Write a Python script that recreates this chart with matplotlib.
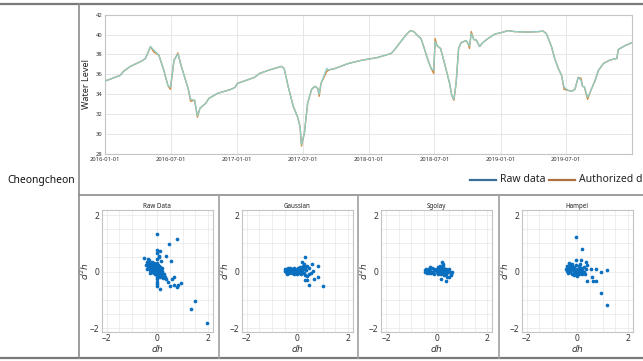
import numpy as np
import matplotlib
matplotlib.use("Agg")
import matplotlib.pyplot as plt
import matplotlib.dates as mdates
from matplotlib.lines import Line2D

plt.rcParams['font.family'] = ['Noto Sans', 'DejaVu Sans']

W, H = 643, 361

# water level (Cheongcheon)
level_dates = [
    '2016-01-01', '2016-02-12', '2016-02-21', '2016-03-11', '2016-04-12', '2016-04-22',
    '2016-05-06', '2016-05-15', '2016-05-29', '2016-06-12', '2016-06-23', '2016-06-30',
    '2016-07-10', '2016-07-21', '2016-07-28', '2016-08-07', '2016-08-18', '2016-08-25',
    '2016-09-05', '2016-09-13', '2016-09-20', '2016-10-06', '2016-10-15', '2016-11-08',
    '2016-12-15', '2016-12-26', '2017-01-02', '2017-02-18', '2017-03-04', '2017-04-05',
    '2017-05-03', '2017-05-11', '2017-05-22', '2017-06-05', '2017-06-17', '2017-06-24',
    '2017-06-28', '2017-07-06', '2017-07-15', '2017-07-26', '2017-08-04', '2017-08-12',
    '2017-08-16', '2017-08-21', '2017-09-06', '2017-09-12', '2017-09-29', '2017-11-05',
    '2017-12-09', '2018-01-25', '2018-03-03', '2018-03-12', '2018-03-30', '2018-04-13',
    '2018-04-25', '2018-05-05', '2018-05-14', '2018-05-25', '2018-06-03', '2018-06-13',
    '2018-06-22', '2018-06-29', '2018-07-03', '2018-07-08', '2018-07-18', '2018-07-29',
    '2018-08-12', '2018-08-18', '2018-08-24', '2018-08-30', '2018-09-06', '2018-09-13',
    '2018-09-27', '2018-10-02', '2018-10-06', '2018-10-11', '2018-10-18', '2018-10-25',
    '2018-11-03', '2018-11-12', '2018-11-26', '2018-12-15', '2019-01-02', '2019-01-21',
    '2019-02-08', '2019-03-17', '2019-04-14', '2019-04-28', '2019-05-07', '2019-05-21',
    '2019-05-30', '2019-06-09', '2019-06-18', '2019-06-25', '2019-07-06', '2019-07-16',
    '2019-07-25', '2019-08-03', '2019-08-11', '2019-08-15', '2019-08-20', '2019-08-29',
    '2019-09-05', '2019-09-19', '2019-09-28', '2019-10-12', '2019-10-30', '2019-11-18',
    '2019-11-22', '2019-12-11', '2019-12-31',
]
level_raw = [
    35.33, 35.9, 36.3, 36.8, 37.35, 37.6,
    38.8, 38.45, 37.95, 36.4, 34.9, 34.7,
    37.4, 38.05, 37.1, 35.9, 34.6, 33.5,
    33.4, 31.85, 32.6, 33.1, 33.6, 34.1,
    34.5, 34.7, 35.1, 35.7, 36.1, 36.5,
    36.8, 36.6, 34.8, 32.8, 31.75, 30.75,
    28.97, 30.1, 33.1, 34.5, 34.8, 34.6,
    34.0, 35.1, 36.6, 36.45, 36.6, 37.1,
    37.4, 37.7, 38.1, 38.45, 39.3, 39.95,
    40.4, 40.3, 39.95, 39.6, 38.6, 37.45,
    36.6, 36.4, 39.3, 38.9, 38.6, 37.1,
    35.1, 33.9, 33.5, 35.1, 38.6, 39.2,
    39.4, 39.1, 38.85, 40.1, 39.5, 39.45,
    38.8, 39.2, 39.6, 40.05, 40.2, 40.4,
    40.3, 40.25, 40.3, 40.35, 40.1, 38.8,
    37.6, 36.6, 35.9, 34.7, 34.4, 34.3,
    34.5, 35.7, 35.4, 34.8, 34.75, 33.7,
    34.2, 35.4, 36.4, 37.1, 37.45, 37.6,
    38.5, 38.9, 39.2,
]
# authorized data differs from raw only at a few dips/spikes
auth_changes = {
    '2016-05-15': 38.25, '2016-06-30': 34.5, '2016-07-21': 38.15, '2016-08-25': 33.3,
    '2016-09-13': 31.7, '2017-06-28': 28.8, '2017-08-16': 33.8, '2017-09-06': 36.3,
    '2018-06-29': 36.1, '2018-07-03': 39.6, '2018-08-24': 33.4, '2018-10-06': 38.6,
    '2018-10-11': 40.3, '2019-06-25': 34.5, '2019-08-29': 33.5, '2019-08-11': 35.6,
}

# phase plots (dh, d2h)
raw_dh = [-0.40, -0.35, -0.30, -0.28, -0.25, -0.22, -0.20, -0.18, -0.15, -0.12, -0.10, -0.08,
          -0.05, -0.03, 0.00, 0.02, 0.05, 0.08, 0.10, 0.12, 0.15, 0.18, 0.20, 0.25, 0.30,
          -0.30, -0.25, -0.20, -0.15, -0.10, -0.05, 0.00, 0.05, 0.10, -0.35, -0.40, -0.15,
          -0.05, 0.00, 0.05, 0.10, 0.15, 0.20, -0.45, -0.32, 0.00, 0.03, -0.02, 0.07, 0.12,
          0.22, 0.35, 0.28, -0.22, -0.12, -0.28, 0.18, 0.02, -0.08,
          -0.18, -0.08, 0.04, -0.25, 0.14, -0.35, 0.24, 0.08,
          0.00, 0.00, 0.00, 0.00, 0.00, -0.02, 0.05, 0.00, 0.08,
          -0.02, 0.79, 0.46, -0.02, 0.09, 0.33, -0.51, -0.36, 0.53, 0.14, 0.67, 0.57, 0.44,
          0.50, 0.67, 0.83, 0.92, 0.79, 0.11, 1.47, 1.32, 1.97]
raw_d2h = [0.35, 0.28, 0.30, 0.20, 0.25, 0.15, 0.22, 0.10, 0.18, 0.05, 0.12, 0.20,
           0.02, 0.08, 0.00, 0.05, -0.03, 0.02, -0.08, -0.02, -0.10, -0.05, -0.12, -0.15, -0.18,
           0.05, 0.00, -0.02, -0.05, -0.08, -0.10, -0.12, -0.15, -0.20, 0.12, 0.10, 0.30,
           0.25, 0.18, 0.12, 0.08, 0.05, 0.02, 0.22, 0.40, 0.30, -0.05, 0.10, 0.20, 0.15,
           -0.22, -0.25, -0.08, 0.35, 0.28, -0.06, 0.12, 0.22, -0.02,
           0.04, 0.00, -0.08, 0.10, 0.00, 0.20, -0.08, -0.10,
           -0.20, -0.28, -0.36, -0.44, -0.50, 0.45, 0.55, 0.65, 0.50,
           1.33, 1.16, 0.98, 0.78, 0.74, 0.54, 0.47, 0.45, 0.39, 0.39, -0.20, -0.25, -0.38,
           -0.50, -0.46, -0.49, -0.42, -0.55, -0.61, -1.06, -1.34, -1.83]

gauss_dh = [-0.50, -0.45, -0.45, -0.40, -0.40, -0.38, -0.35, -0.30, -0.30, -0.25, -0.22, -0.20,
            -0.18, -0.15, -0.12, -0.10, -0.08, -0.05, 0.00, 0.02, 0.05, 0.08, 0.10, 0.12,
            0.15, 0.18, 0.20, 0.22, -0.28, -0.42, 0.25, 0.28, 0.30, 0.32, -0.15, 0.00,
            -0.48, -0.35, -0.22, -0.05, 0.05, 0.15, -0.32, -0.10,
            0.30, 0.17, 0.56, 0.80, 0.38, 0.46, 0.61, 0.48, 0.83, 0.30, 0.47, 1.00,
            0.25, 0.35, 0.40, 0.55, 0.65, 0.38]
gauss_d2h = [0.02, 0.06, -0.02, 0.08, 0.00, -0.05, 0.04, 0.10, -0.03, 0.05, -0.06, 0.08,
             0.00, 0.12, -0.04, 0.05, 0.10, -0.02, 0.04, 0.12, -0.05, 0.06, 0.15, 0.00,
             -0.08, 0.10, 0.03, 0.20, 0.12, -0.07, -0.04, 0.08, -0.12, 0.15, -0.08, -0.08,
             0.10, 0.12, 0.02, 0.06, 0.02, 0.02, -0.05, 0.00,
             0.53, 0.33, 0.27, 0.21, 0.19, 0.11, 0.02, -0.09, -0.20, -0.29, -0.49, -0.52,
             0.25, 0.05, -0.15, -0.05, -0.25, -0.30]

sgolay_dh = [-0.48, -0.45, -0.42, -0.40, -0.35, -0.32, -0.30, -0.25, -0.22, -0.20, -0.15, -0.12,
             -0.10, -0.05, 0.00, 0.02, 0.05, 0.08, 0.10, 0.12, 0.15, 0.18, 0.20, 0.22,
             0.25, 0.28, 0.30, 0.32, 0.35, 0.38, 0.40, 0.45, 0.50, 0.55, 0.60, 0.58,
             0.15, 0.05, -0.28, 0.25, -0.38, -0.18, 0.00, 0.12, 0.35, 0.48,
             0.22, 0.26, 0.16, 0.36, 0.50, 0.42]
sgolay_d2h = [0.05, -0.02, 0.08, 0.00, 0.05, -0.05, 0.10, 0.02, -0.06, 0.12, 0.00, 0.08,
              -0.08, 0.05, -0.02, 0.10, -0.08, 0.04, 0.15, -0.05, 0.08, -0.10, 0.02, 0.12,
              -0.06, 0.05, -0.12, 0.10, 0.00, -0.08, 0.06, -0.02, 0.03, -0.08, 0.00, -0.12,
              0.18, 0.15, 0.15, 0.20, -0.06, -0.03, 0.06, 0.00, 0.10, 0.10,
              0.35, 0.27, -0.26, -0.35, -0.20, -0.18]

hampel_dh = [-0.45, -0.42, -0.40, -0.38, -0.35, -0.30, -0.28, -0.25, -0.22, -0.20, -0.18, -0.15,
             -0.12, -0.10, -0.08, -0.05, -0.02, 0.00, 0.02, 0.05, 0.08, 0.10, 0.12, 0.15,
             0.18, 0.20, 0.22, 0.25, 0.28, 0.30, -0.30, 0.00, -0.15, 0.35, -0.20, 0.10,
             -0.32, -0.10, 0.06, 0.20, -0.25, 0.14,
             -0.04, 0.17, -0.04, 0.13, 0.33, -0.33, 0.39, 0.53, 0.73, 0.95, 1.19,
             0.37, 0.58, 0.62, 0.73, 0.93, 1.19]
hampel_d2h = [0.10, 0.02, 0.18, -0.05, 0.08, 0.15, -0.02, 0.05, 0.20, -0.08, 0.10, 0.00,
              0.15, -0.10, 0.05, 0.22, -0.05, 0.10, 0.00, 0.18, -0.08, 0.08, -0.02, 0.12,
              -0.10, 0.05, -0.05, 0.15, 0.00, -0.10, 0.25, -0.15, -0.12, 0.08, 0.28, 0.25,
              0.00, 0.02, 0.05, -0.02, 0.12, 0.00,
              1.24, 0.80, 0.42, 0.42, 0.33, 0.31, 0.24, 0.10, 0.10, 0.00, 0.04,
              -0.35, -0.21, -0.35, -0.35, -0.75, -1.18]

panel_titles = ['Raw Data', 'Gaussian', 'Sgolay', 'Hampel']
panel_data = [(raw_dh, raw_d2h), (gauss_dh, gauss_d2h), (sgolay_dh, sgolay_d2h), (hampel_dh, hampel_d2h)]


def rect(l, t, r, b):
    return [l / W, 1 - b / H, (r - l) / W, (b - t) / H]


fig = plt.figure(figsize=(W / 100, H / 100), dpi=100)

# table lines
lk = dict(color='#8c8c8c', lw=1.2, transform=fig.transFigure)
def hline(y, x0, x1, **kw):
    fig.add_artist(Line2D([x0 / W, x1 / W], [1 - y / H, 1 - y / H], **{**lk, **kw}))
def vline(x, y0, y1, **kw):
    fig.add_artist(Line2D([x / W, x / W], [1 - y0 / H, 1 - y1 / H], **{**lk, **kw}))

hline(3.5, 0, W, lw=1.6, color='#7a7a7a')
hline(195, 79, W)
hline(357.5, 0, W, lw=1.6, color='#7a7a7a')
vline(79, 3.5, 357.5)
for x in [218.5, 357.5, 498.5]:
    vline(x, 195, 357.5, color='#a0a0a0')

fig.text(41 / W, 1 - 180 / H, 'Cheongcheon', ha='center', va='center', fontsize=7.4, color='#111111')

# time series
dates = np.array(level_dates, dtype='datetime64[D]')
auth = [auth_changes.get(d, v) for d, v in zip(level_dates, level_raw)]

ax = fig.add_axes(rect(105, 14.7, 632, 154))
ax.plot(dates, auth, color='#d4873a', lw=1.0, zorder=2)
ax.plot(dates, level_raw, color='#8fcdc6', lw=1.0, zorder=3)
ax.set_xlim(np.datetime64('2016-01-01'), np.datetime64('2019-12-30'))
ax.set_ylim(28, 42)
ax.set_yticks(np.arange(28, 43, 2))
ax.xaxis.set_major_locator(mdates.MonthLocator(bymonth=[1, 7]))
ax.xaxis.set_major_formatter(mdates.DateFormatter('%Y-%m-%d'))
ax.tick_params(labelsize=4.2, colors='#333333', length=0, pad=2)
ax.grid(True, color='#e3e3e3', lw=0.6)
for s in ax.spines.values():
    s.set_color('#c4c4c4')
    s.set_linewidth(0.8)
ax.set_ylabel('Water Level', fontsize=6.5, labelpad=3, color='#222222')

# legend (runs off the right edge like the original)
fig.add_artist(Line2D([470 / W, 496 / W], [1 - 180 / H] * 2, color='#3b6f98', lw=1.6, transform=fig.transFigure))
fig.text(500.5 / W, 1 - 180 / H, 'Raw data', fontsize=7.5, va='center', color='#222222')
fig.add_artist(Line2D([549 / W, 575 / W], [1 - 180 / H] * 2, color='#b06f3f', lw=1.6, transform=fig.transFigure))
fig.text(579 / W, 1 - 180 / H, 'Authorized data', fontsize=7.5, va='center', color='#222222')

# phase plots
lefts = [101.7, 241.7, 381, 521.7]
for left, title, (dh, d2h) in zip(lefts, panel_titles, panel_data):
    a = fig.add_axes(rect(left, 210, left + 111.3, 331.7))
    a.scatter(dh, d2h, s=7, color='#0b6fc0', linewidths=0, zorder=3)
    a.set_xlim(-2.2, 2.2)
    a.set_ylim(-2.13, 2.18)
    a.set_xticks([-2, 0, 2])
    a.set_yticks([-2, 0, 2])
    a.set_xticks(np.arange(-2, 2.01, 0.5), minor=True)
    a.set_yticks(np.arange(-2, 2.01, 0.5), minor=True)
    a.grid(True, which='both', color='#e8e8e8', lw=0.5)
    a.tick_params(which='both', length=0, labelsize=6, colors='#333333', pad=2)
    for s in a.spines.values():
        s.set_color('#c4c4c4')
        s.set_linewidth(0.8)
    a.set_title(title, fontsize=4.5, pad=1.5, color='#222222')
    a.set_xlabel('$dh$', fontsize=6.5, labelpad=0, color='#333333')
    a.set_ylabel('$d^2h$', fontsize=6.5, labelpad=-1, color='#333333')

fig.savefig('out.png', dpi=100)
